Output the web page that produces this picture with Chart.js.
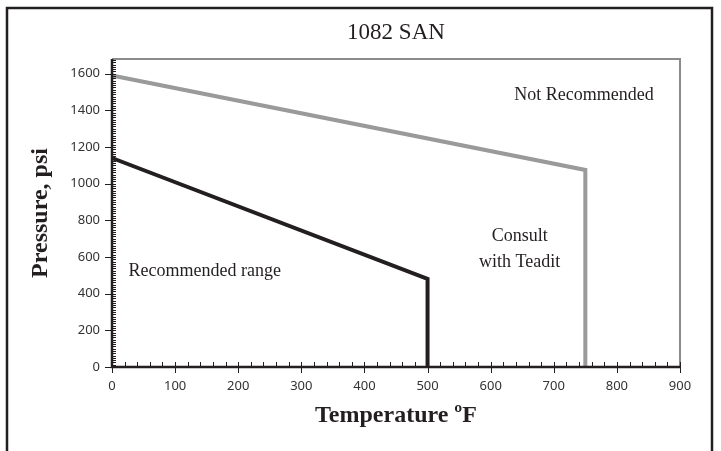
<!DOCTYPE html>
<html>
<head>
<meta charset="utf-8">
<title>1082 SAN</title>
<script src="https://cdn.jsdelivr.net/npm/chart.js@4.4.1/dist/chart.umd.min.js"></script>
<style>
  html, body { margin: 0; padding: 0; background: #fff; }
  #wrap { width: 721px; height: 451px; }
</style>
</head>
<body>
<div id="wrap"><canvas id="chart" width="721" height="451"></canvas></div>
<script>
(function () {
  'use strict';

  // pressure / temperature limits
  var limitTemp = [0, 750, 750];
  var limitPress = [1590, 1075, 0];
  var recTemp = [0, 500, 500];
  var recPress = [1140, 480, 0];

  var xTicks = [0, 100, 200, 300, 400, 500, 600, 700, 800, 900];
  var yTicks = [0, 200, 400, 600, 800, 1000, 1200, 1400, 1600];

  // region notes, placed in data units
  var noteText = ['Not Recommended', 'Consult', 'with Teadit', 'Recommended range'];
  var noteTemp = [748, 646, 646, 147];
  var notePress = [1480, 712, 570, 522];

  var INK = '#231f20';
  var GRAY = '#9a9a9a';
  var FRAME_GRAY = '#8c8c8c';
  var SERIF = "'Liberation Serif', 'Times New Roman', serif";
  var SANS = "'Noto Sans', 'Open Sans', sans-serif";

  function toPoints(xs, ys) {
    return xs.map(function (x, i) { return { x: x, y: ys[i] }; });
  }

  function plain(v) { return String(v); }

  // frame, axis lines, major/minor ticks and text notes
  var decorPlugin = {
    id: 'decor',
    beforeDraw: function (chart) {
      var ctx = chart.ctx;
      ctx.save();
      ctx.strokeStyle = INK;
      ctx.lineWidth = 2.5;
      ctx.strokeRect(7, 8, 705, 470);
      ctx.restore();
    },
    afterDatasetsDraw: function (chart) {
      var ctx = chart.ctx;
      var a = chart.chartArea;
      var xs = chart.scales.x;
      var ys = chart.scales.y;
      ctx.save();

      // gray top/right frame of the plot
      ctx.strokeStyle = FRAME_GRAY;
      ctx.lineWidth = 2;
      ctx.beginPath();
      ctx.moveTo(a.left, a.top);
      ctx.lineTo(a.right, a.top);
      ctx.lineTo(a.right, a.bottom);
      ctx.stroke();

      ctx.strokeStyle = INK;
      ctx.lineWidth = 1;
      var v, p;
      // y minor ticks (inside)
      ctx.beginPath();
      for (v = 0; v <= ys.max; v += 12.5) {
        p = Math.round(ys.getPixelForValue(v)) + 0.5;
        ctx.moveTo(a.left, p);
        ctx.lineTo(a.left + 4, p);
      }
      // y major ticks (outside)
      yTicks.forEach(function (t) {
        p = Math.round(ys.getPixelForValue(t)) + 0.5;
        ctx.moveTo(a.left - 7, p);
        ctx.lineTo(a.left, p);
      });
      // x minor ticks (inside)
      for (v = 0; v <= xs.max; v += 20) {
        p = Math.round(xs.getPixelForValue(v)) + 0.5;
        ctx.moveTo(p, a.bottom);
        ctx.lineTo(p, a.bottom - 5);
      }
      // x major ticks (across)
      xTicks.forEach(function (t) {
        p = Math.round(xs.getPixelForValue(t)) + 0.5;
        ctx.moveTo(p, a.bottom - 5);
        ctx.lineTo(p, a.bottom + 6);
      });
      ctx.stroke();

      // axis lines
      ctx.lineWidth = 2.5;
      ctx.beginPath();
      ctx.moveTo(a.left, a.top);
      ctx.lineTo(a.left, a.bottom);
      ctx.lineTo(a.right, a.bottom);
      ctx.stroke();

      // notes
      ctx.fillStyle = INK;
      ctx.font = '18px ' + SERIF;
      ctx.textBaseline = 'middle';
      ctx.textAlign = 'center';
      noteText.forEach(function (txt, i) {
        ctx.fillText(txt, xs.getPixelForValue(noteTemp[i]), ys.getPixelForValue(notePress[i]));
      });
      ctx.restore();
    }
  };

  new Chart(document.getElementById('chart'), {
    type: 'scatter',
    data: {
      datasets: [
        {
          label: 'Consult limit',
          data: toPoints(limitTemp, limitPress),
          showLine: true,
          borderColor: GRAY,
          borderWidth: 4,
          borderJoinStyle: 'miter',
          pointRadius: 0,
          tension: 0,
          clip: false
        },
        {
          label: 'Recommended range',
          data: toPoints(recTemp, recPress),
          showLine: true,
          borderColor: INK,
          borderWidth: 4,
          borderJoinStyle: 'miter',
          pointRadius: 0,
          tension: 0,
          clip: false
        }
      ]
    },
    options: {
      responsive: false,
      animation: false,
      devicePixelRatio: 1,
      layout: { padding: { left: 20, right: 41, top: 8, bottom: 0 } },
      plugins: {
        legend: { display: false },
        tooltip: { enabled: false },
        title: {
          display: true,
          fullSize: false,
          text: '1082 SAN',
          color: INK,
          font: { family: SERIF, size: 23, weight: 'normal', lineHeight: 1.2 },
          padding: { top: 11, bottom: 12.4 }
        }
      },
      scales: {
        x: {
          type: 'linear',
          min: 0,
          max: 900,
          grid: { display: false },
          border: { display: false },
          afterBuildTicks: function (scale) {
            scale.ticks = xTicks.map(function (t) { return { value: t }; });
          },
          afterFit: function (scale) {
            scale.height = 84;
            scale.paddingLeft = 0;
            scale.paddingRight = 0;
          },
          ticks: {
            color: '#333',
            font: { family: SANS, size: 13 },
            padding: 3,
            maxRotation: 0,
            callback: plain
          },
          title: {
            display: true,
            text: 'Temperature ºF',
            color: INK,
            font: { family: SERIF, size: 24, weight: 'bold', lineHeight: 1.2 },
            padding: { top: 0, bottom: 21 }
          }
        },
        y: {
          type: 'linear',
          min: 0,
          max: 1680,
          grid: { display: false },
          border: { display: false },
          afterBuildTicks: function (scale) {
            scale.ticks = yTicks.map(function (t) { return { value: t }; });
          },
          afterFit: function (scale) {
            scale.width = 92;
            scale.paddingTop = 0;
            scale.paddingBottom = 0;
          },
          ticks: {
            color: '#333',
            font: { family: SANS, size: 13 },
            padding: 4,
            callback: plain
          },
          title: {
            display: true,
            text: 'Pressure, psi',
            color: INK,
            font: { family: SERIF, size: 24, weight: 'bold', lineHeight: 1.2 },
            padding: { top: 6, bottom: 0 }
          }
        }
      }
    },
    plugins: [decorPlugin]
  });
})();
</script>
</body>
</html>
